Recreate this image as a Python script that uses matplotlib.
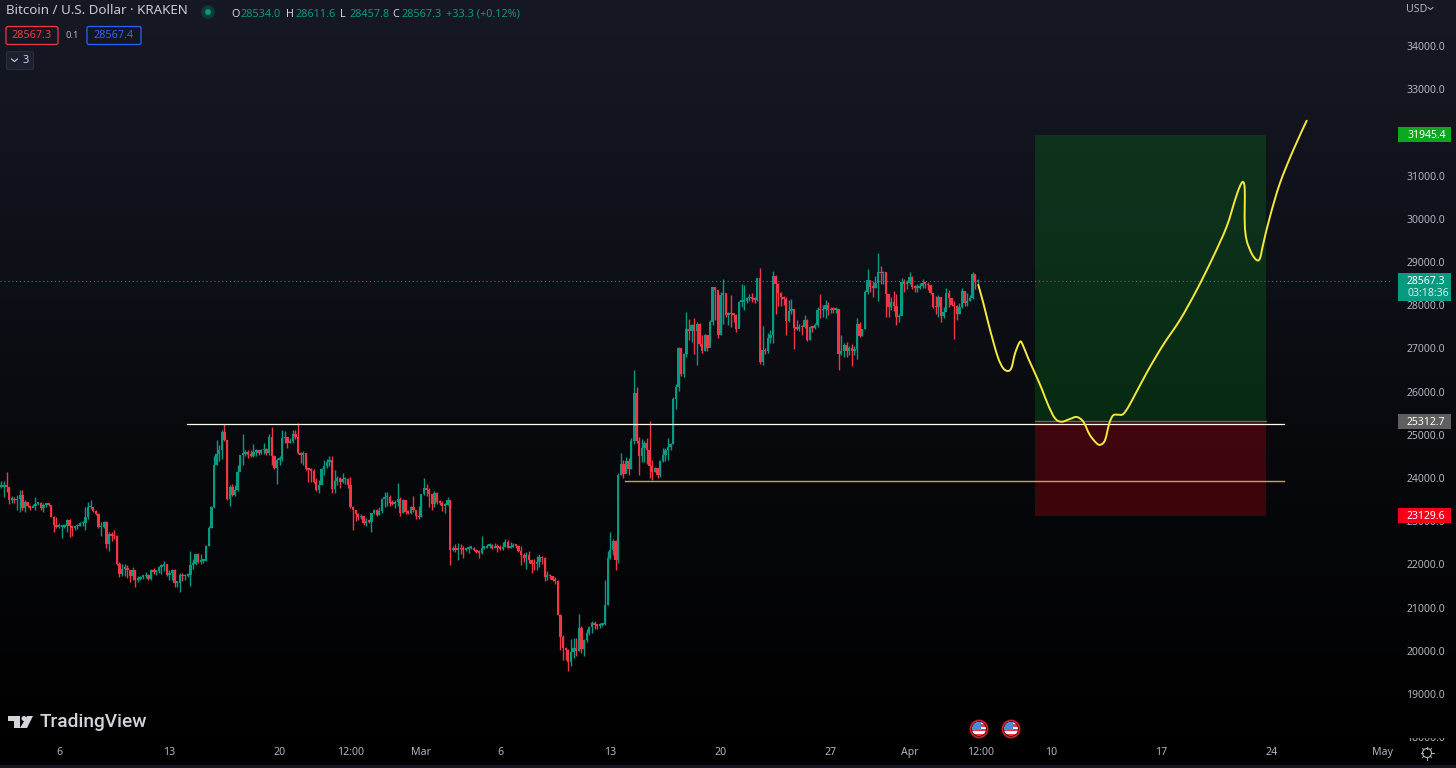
import numpy as np
import matplotlib
matplotlib.use('Agg')
import matplotlib.pyplot as plt
from matplotlib.patches import Rectangle, Circle, Polygon, FancyBboxPatch, PathPatch
from matplotlib.path import Path
from matplotlib.transforms import Bbox

plt.rcParams['font.family'] = ['Noto Sans', 'DejaVu Sans']

# 4h candles. open of a candle is the close before it
first_open = 23790
closes = [23800,23830,23800,23490,23510,23480,23520,23610,23300,23440,23350,23300,23360,23400,23410,23300,23380,23400,23380,23100,
          22910,22870,22870,22870,22890,23030,22880,22840,22880,22900,22950,22960,23090,23320,23330,23240,23170,22860,22870,22970,
          22470,22700,22660,22650,22000,21770,21900,21920,21860,21740,21880,21640,21670,21710,21720,21760,21670,21880,21830,21840,
          21940,21960,22000,21760,21800,21880,21580,21580,21750,21720,21730,21760,21990,22000,22230,22060,22080,22090,22430,22850,
          23320,24290,24550,24640,25060,24870,23520,23800,23600,23720,24130,24530,24560,24600,24530,24520,24600,24640,24580,24640,
          24660,24570,24940,24520,24240,24420,24450,24920,24960,24800,24860,25030,24950,24570,24540,24580,24200,24180,24170,23900,
          23720,23830,24200,24280,24380,24420,23740,23930,24000,23900,23970,23980,23830,23340,23250,23160,23090,23110,22950,23000,
          22990,23180,23260,23150,23240,23510,23550,23560,23430,23400,23440,23520,23200,23480,23220,23200,23340,23250,23130,23090,
          23620,23760,23720,23620,23400,23660,23440,23430,23360,23380,23480,22340,22370,22340,22360,22350,22340,22360,22380,22380,
          22330,22290,22260,22380,22390,22430,22440,22390,22420,22380,22360,22400,22530,22390,22410,22440,22430,22320,22220,22150,
          22220,22100,22010,22000,22060,22170,22140,21700,21760,21720,21650,21620,20840,20330,20060,20020,19750,19980,20060,20000,
          20520,20040,20240,20420,20540,20650,20590,20570,20600,20610,21060,22140,22330,22550,22110,24070,24320,24100,24400,24200,
          24860,25970,24850,24500,24700,24820,24650,24270,24150,24220,24060,24390,24530,24650,24720,24780,25840,26100,27000,26400,
          26880,27450,27410,27540,27400,27560,27100,26950,27300,27000,27620,28410,28350,27320,28240,28290,27770,27800,27790,27780,
          27450,28080,28080,28090,28160,28170,28150,28130,28630,26680,26960,26930,27250,27300,28670,28500,28280,28180,28140,27640,
          27860,27920,27470,27450,27500,27490,27650,27200,27500,27470,27540,27900,27880,27920,28010,27880,27900,27890,27910,26880,
          26940,27090,26950,27000,26950,26980,27570,27290,27440,28300,28580,28430,28400,28510,28760,28740,28760,28260,27950,28080,
          27990,27720,27750,28530,28500,28520,28660,28420,28400,28400,28450,28510,28490,28460,28280,27960,27950,28190,27750,27850,
          28280,28170,28000,27970,27790,27950,28320,28050,28100,28160,28730,28534,28567.3]
highs = [23920,23920,24150,23800,23580,23550,23610,23720,23720,23480,23440,23370,23400,23570,23440,23440,23430,23410,23410,23380,
         23120,23090,22950,22910,22940,23040,23050,22920,22900,22930,22980,23000,23340,23450,23490,23330,23260,23190,22990,23000,
         23000,22760,22740,22800,22680,22050,22020,22000,21990,21880,21950,21880,21720,21740,21760,21820,21780,21900,21920,21860,
         21960,22000,22080,22010,21880,21900,21900,21620,21790,21800,21780,21800,22300,22130,22250,22270,22240,22120,22440,22880,
         23360,24500,24880,24770,25100,25260,24880,23830,23860,23840,24300,24530,25020,24640,24640,24640,24780,24680,24650,24680,
         24800,24690,25020,25170,24530,24470,24500,25100,25090,24960,24930,25100,25100,25270,24600,24620,24580,24220,24230,24200,
         24000,23950,24240,24420,24450,24500,24510,24190,24050,24020,24120,24030,24000,24020,23350,23250,23190,23170,23120,23080,
         23050,23200,23290,23290,23320,23530,23680,23680,23600,23500,23500,23880,23570,23520,23500,23250,23360,23580,23260,23360,
         23620,24000,23850,23780,23640,23700,23680,23480,23470,23430,23550,23490,22420,22480,22490,22480,22420,22390,22420,22410,
         22400,22350,22330,22660,22430,22480,22500,22480,22500,22480,22440,22520,22580,22570,22520,22500,22470,22440,22430,22260,
         22280,22310,22130,22120,22200,22230,22190,22180,21840,21780,21740,21700,21640,20850,20360,20090,20040,20270,20300,20300,
         20860,20580,20270,20500,20570,20690,20680,20620,20650,20650,21650,22300,22760,22590,22570,24110,24570,24420,24480,24460,
         24920,26510,26100,24950,24900,24850,24930,25310,24410,24260,24230,24420,24700,24700,24920,24820,25880,26180,27040,27020,
         26900,27850,27670,27560,27710,27610,27590,27300,27330,27310,27650,28430,28430,27960,28300,28600,28290,27850,28240,27800,
         27800,28100,28500,28470,28200,28250,28290,28200,28640,28870,27510,27010,27350,27430,28800,28700,28510,28300,28220,28190,
         28120,28150,27880,27660,27560,27540,27770,27680,27530,27510,27580,27950,28250,28000,28130,28080,27950,27950,27950,27920,
         27300,27130,27150,27050,27100,27050,27700,27620,27450,28350,28830,28590,28570,28680,29200,28900,28800,28770,28260,28190,
         28330,28260,27800,28630,28600,28590,28780,28680,28470,28490,28520,28600,28530,28530,28470,28290,28210,28230,28200,27950,
         28400,28360,28170,28100,28010,28040,28400,28330,28290,28240,28780,28700,28611.6]
lows = [23760,23550,23680,23390,23430,23430,23260,23220,23260,23220,23320,23270,23320,23260,23370,23270,23220,23340,23350,23090,
        22760,22840,22840,22600,22840,22760,22640,22660,22790,22820,22880,22880,22800,23060,23290,23220,23140,22840,22650,22850,
        22380,22300,22550,22580,21980,21700,21720,21740,21680,21600,21650,21480,21600,21650,21660,21680,21640,21650,21780,21750,
        21800,21780,21850,21720,21650,21650,21480,21470,21370,21620,21650,21700,21500,21900,21980,22040,22020,22040,22080,22420,
        22840,23310,24300,24400,24440,24850,23500,23350,23580,23590,23700,24300,24300,24500,24470,24480,24490,24520,24540,24550,
        24550,24540,24540,24300,24200,23870,24300,24400,24800,24700,24800,24820,24900,24550,24340,24300,24180,23900,23900,23880,
        23700,23660,23830,24080,24220,24270,23650,23650,23830,23760,23880,23850,23780,23310,22800,23000,23030,23050,22910,22890,
        22950,22750,23160,23110,23140,23190,23340,23350,23350,23370,23300,23350,23120,23180,23170,23160,23160,23220,23050,23050,
        23100,23600,23580,23340,23270,23340,23400,23370,23240,23200,23380,21990,22300,22280,22100,22230,22150,22320,22270,22350,
        22300,22260,22140,22230,22350,22390,22380,22360,22370,22290,22330,22340,22400,22370,22390,22400,22380,22290,21990,22050,
        21900,22040,21810,21880,21880,21950,22010,21620,21650,21660,21620,21550,20820,20030,19790,19780,19540,19640,19840,19880,
        20000,19960,19880,20200,20370,20420,20500,20500,20520,20570,20600,21060,22120,22220,21870,22030,24070,23990,24130,24060,
        24200,24780,24800,24060,24370,24370,24320,23990,23950,24140,24000,24030,24370,24400,24420,24640,24790,25600,26020,26350,
        26330,26800,27200,27150,26880,26620,27060,26900,26950,26950,27200,27550,27650,27250,27320,27560,27720,27550,27500,27600,
        27380,27540,27950,27900,28060,28090,28080,28060,28100,26650,26620,26880,26900,27130,27130,27800,27990,27970,28000,27310,
        27620,27800,26990,27420,27410,27300,27480,27170,27190,27380,27450,27500,27700,27720,27700,27780,27820,27830,27820,26500,
        26840,26800,26800,26850,26590,26850,26750,27270,27290,27440,28260,28300,28180,28400,28100,28500,28500,27720,27720,27900,
        27870,27550,27600,27900,28300,28380,28500,28380,28300,28300,28380,28400,28400,28350,28250,27930,27800,27730,27600,27700,
        27900,27950,27980,27220,27650,27800,27940,27980,27970,28100,28140,28380,28457.8]

# hand drawn path on the chart
path_x = [372.2,374.1,376,377.9,379.8,381.7,383.6,384.9,386.2,388.1,389.3,391.2,393.8,396.3,398.8,401.4,403.9,407.1,409.7,412.2,
          414.7,417.3,418.8,420.5,422.1,423.6,425.5,427.4,430,436.3,442.6,449,455.4,461.7,466.8,470,471.9,473.1,473.7,473.7,
          474.4,476.3,478.2,479.5,480.8,483.3,487.1,492.2,497.3]
path_y = [28468,28051,27588,27155,26771,26539,26477,26563,26887,27155,27056,26771,26424,26076,25690,25382,25303,25366,25412,25303,
          24995,24803,24771,24880,25266,25451,25465,25481,25713,26431,27079,27657,28352,29123,29817,30435,30759,30852,30667,29896,
          29509,29201,29046,29086,29433,30049,30822,31593,32271]

last_price = 28567.3
target_price = 31945.4
entry_price = 25312.7
stop_price = 23129.6
white_level = 25240
gold_level = 23930

price_ticks = [18000,19000,20000,21000,22000,23000,24000,25000,26000,27000,28000,29000,30000,31000,32000,33000,34000]
time_ticks = [22,64,106,133,160,190,232,274,316,346,373,400,442,484,526]
time_labels = ['6','13','20','12:00','Mar','6','13','20','27','Apr','12:00','10','17','24','May']
bold_labels = ['Mar','Apr','May']

UP = '#089981'
DOWN = '#f23645'
TXT = '#b2b5be'
W, H = 1456, 768
K = 0.0432  # pixels per dollar

fig = plt.figure(figsize=(14.56, 7.68), dpi=100, facecolor='black')

# background gets darker towards the bottom
bg = fig.add_axes([0, 0, 1, 1], zorder=0)
rows = np.arange(H)
grad = np.dstack([np.interp(rows, [0, 300, 500, 768], [c0, c1, c2, 0]) for c0, c1, c2 in
                  [(22, 13, 6), (25, 15, 7), (36, 22, 10)]]).astype(np.uint8)
bg.imshow(grad.reshape(H, 1, 3), aspect='auto', extent=[0, 1, 0, 1])
bg.axis('off')

ax = fig.add_axes([0, 1 - 739 / H, 1392 / W, 739 / H], zorder=1)
ax.patch.set_alpha(0)
for s in ax.spines.values():
    s.set_visible(False)
ax.set_xlim(-0.507, 529.8)
ax.set_ylim(34000 - (739 - 46) / K, 34000 + 46 / K)

# candles
x = np.arange(len(closes))
closes_a = np.array(closes)
opens = np.r_[first_open, closes_a[:-1]]
colors = [UP if c >= o else DOWN for o, c in zip(opens, closes_a)]
ax.vlines(x, lows, highs, colors=colors, lw=1.0, zorder=3)
heights = np.maximum(np.abs(closes_a - opens), 40)
ax.bar(x, heights, bottom=np.minimum(opens, closes_a), width=0.9, color=colors, linewidth=0, zorder=3)

# position tool
left, right = 393.8, 481.8
ax.fill_between([left, right], entry_price, target_price, color='#00c020', alpha=0.18, linewidth=0, zorder=2)
ax.fill_between([left, right], stop_price, entry_price, color='#f00010', alpha=0.24, linewidth=0, zorder=2)
ax.plot([left, right], [entry_price, entry_price], color='#6a6a6a', lw=0.9, zorder=2)

ax.axhline(last_price, color=UP, lw=0.8, ls=(0, (1, 2.5)), zorder=2)
ax.plot([70.7, 488.6], [white_level, white_level], color='#fdfbe6', lw=0.9, zorder=4)
ax.plot([237.6, 488.6], [gold_level, gold_level], color='#c9a83c', lw=1.0, zorder=4)

# smooth the drawn path with bezier segments through the read points
pts = ax.transData.transform(np.c_[path_x, path_y])
verts = [pts[0]]
codes = [Path.MOVETO]
for i in range(len(pts) - 1):
    p0 = pts[max(i - 1, 0)]
    p1 = pts[i]
    p2 = pts[i + 1]
    p3 = pts[min(i + 2, len(pts) - 1)]
    verts += [p1 + (p2 - p0) / 6, p2 - (p3 - p1) / 6, p2]
    codes += [Path.CURVE4] * 3
ax.add_patch(PathPatch(Path(verts, codes), transform=None, facecolor='none', edgecolor='#f6e83c', lw=1.4, capstyle='round', joinstyle='round', zorder=5))

# axes
ax.yaxis.tick_right()
ax.set_yticks(price_ticks)
ax.set_yticklabels(['%.1f' % p for p in price_ticks], fontsize=7.5, color=TXT, ha='left')
ax.tick_params(axis='y', length=0, pad=10.4)
ax.set_xticks(time_ticks)
ax.set_xticklabels(time_labels, fontsize=7.6, color=TXT)
ax.tick_params(axis='x', length=0, pad=6)
for t in ax.get_xticklabels():
    if t.get_text() in bold_labels:
        t.set_fontweight('bold')
for t in ax.get_yticklabels():
    if t.get_text() == '18000.0':
        t.set_clip_box(Bbox([[1392, 0], [W, H - 738]]))
        t.set_clip_on(True)


def price_box(price, label, color, sub=None):
    tr = ax.get_yaxis_transform()
    top = price + 7.5 / K
    bottom = price - (20.5 if sub else 7.5) / K
    ax.add_patch(Rectangle((1398 / 1392, bottom), 53 / 1392, top - bottom, transform=tr,
                           facecolor=color, edgecolor='none', clip_on=False, zorder=6))
    ax.text(1407 / 1392, price - 1 / K, label, transform=tr, fontsize=7.5, color='white', va='center', ha='left', zorder=7, clip_on=False)
    if sub:
        ax.text(1407 / 1392, price - 12.5 / K, sub, transform=tr, fontsize=7.5, color='#d8f0ea', va='center', ha='left', zorder=7, clip_on=False)


price_box(target_price, '31945.4', '#0aa81e')
price_box(last_price, '28567.3', UP, sub='03:18:36')
price_box(entry_price, '25312.7', '#5f5f5f')
price_box(stop_price, '23129.6', '#f7001c')

# interface bits on top, in screen coordinates
ui = fig.add_axes([0, 0, 1, 1], zorder=2)
ui.set_xlim(0, W)
ui.set_ylim(H, 0)
ui.axis('off')
ui.patch.set_alpha(0)

ui.add_patch(Rectangle((0, 765), W, 3, facecolor='#131722', edgecolor='none'))
ui.text(6, 11, 'Bitcoin / U.S. Dollar · KRAKEN', fontsize=9.6, color='#c8cad2', va='center')
ui.add_patch(Circle((208, 12), 7, facecolor='#0e3a38', edgecolor='none'))
ui.add_patch(Circle((208, 12), 3, facecolor=UP, edgecolor='none'))

ohlc = [(231, 'O', '28534.0'), (286, 'H', '28611.6'), (340, 'L', '28457.8'), (392, 'C', '28567.3')]
for xp, k, v in ohlc:
    ui.text(xp, 14.5, k, fontsize=7.8, color='#d1d4dc', va='center')
    ui.text(xp + 9, 14.5, v, fontsize=7.8, color=UP, va='center')
ui.text(446, 14.5, '+33.3 (+0.12%)', fontsize=7.8, color=UP, va='center')


def quote_box(x0, x1, label, color):
    ui.add_patch(FancyBboxPatch((x0, 26.5), x1 - x0, 18, boxstyle='round,pad=0,rounding_size=2', facecolor='#131722', edgecolor=color, lw=0.9))
    ui.text((x0 + x1) / 2, 36, label, fontsize=7.8, color=color, ha='center', va='center')


quote_box(6, 58, '28567.3', '#f23645')
quote_box(87, 141, '28567.4', '#2962ff')
ui.text(72.5, 36, '0.1', fontsize=6.8, color=TXT, ha='center', va='center')
ui.add_patch(FancyBboxPatch((6.5, 51.5), 27, 18, boxstyle='round,pad=0,rounding_size=2', facecolor='#1c2030', edgecolor='#2a2e39', lw=0.9))
ui.plot([11.5, 14.5, 17.5], [59, 61.5, 59], color='#d1d4dc', lw=0.8)
ui.text(26, 60.5, '3', fontsize=7.8, color='#d1d4dc', ha='center', va='center')

ui.text(1406, 9.5, 'USD', fontsize=7.6, color=TXT, va='center')
ui.plot([1428, 1430.5, 1433], [7.5, 9.5, 7.5], color=TXT, lw=0.7)

# logo
logo = '#d1d4dc'
ui.add_patch(Polygon([(8, 716), (20, 716), (20, 728), (14, 728), (14, 721), (8, 721)], facecolor=logo, edgecolor='none'))
ui.add_patch(Circle((24, 718.5), 2.5, facecolor=logo, edgecolor='none'))
ui.add_patch(Polygon([(27, 716), (33, 716), (27, 728), (20, 728)], facecolor=logo, edgecolor='none'))
ui.text(40, 722, 'TradingView', fontsize=13.8, fontweight='medium', family=['Roboto', 'DejaVu Sans'], color=logo, va='center')


def flag(cx, cy):
    clip = Circle((cx, cy), 7, transform=ui.transData)
    ui.add_patch(Circle((cx, cy), 8.5, facecolor='none', edgecolor='#d4202e', lw=1.3))
    for j in range(6):
        s = Rectangle((cx - 7, cy - 7 + j * 14 / 6), 14, 14 / 6, facecolor='#e8354a' if j % 2 else '#f4f4f4', edgecolor='none')
        ui.add_patch(s)
        s.set_clip_path(clip)
    b = Rectangle((cx - 7, cy - 7), 9, 8, facecolor='#3f8fe0', edgecolor='none')
    ui.add_patch(b)
    b.set_clip_path(clip)


flag(979, 729)
flag(1011, 729)

# gear
ui.add_patch(Circle((1427, 753), 4.5, facecolor='none', edgecolor=TXT, lw=0.8))
for a in np.arange(0, 360, 45):
    ca, sa = np.cos(np.radians(a)), np.sin(np.radians(a))
    ui.plot([1427 + 4.5 * ca, 1427 + 6.5 * ca], [753 + 4.5 * sa, 753 + 6.5 * sa], color=TXT, lw=0.7)

fig.savefig('out.png', dpi=100, facecolor='black')
